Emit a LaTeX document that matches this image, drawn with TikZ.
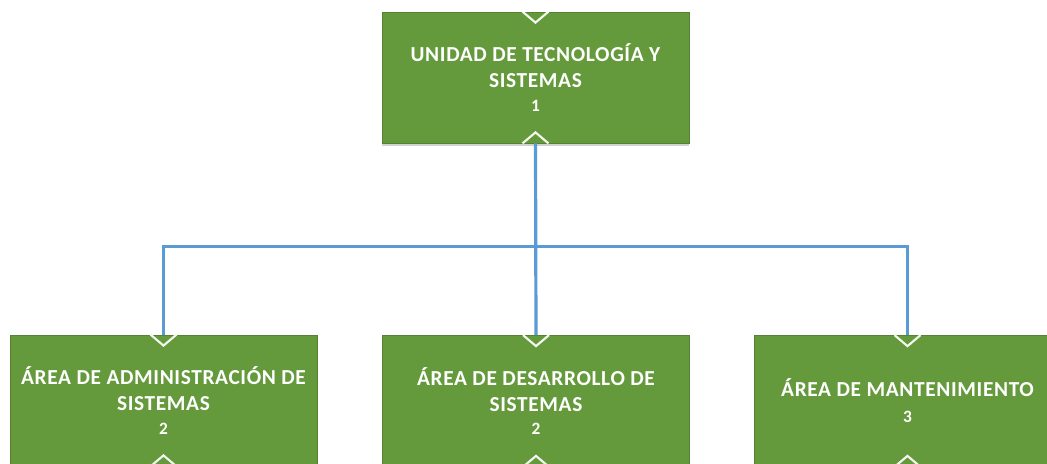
\documentclass[tikz,border=0pt]{standalone}
\usepackage{fontspec}
\setmainfont{Carlito}[LetterSpace=3]
\usetikzlibrary{shadows,calc}
\definecolor{boxgreen}{RGB}{100,154,59}
\definecolor{linkblue}{RGB}{91,155,213}
\tikzset{
  orgbox/.style={rectangle, fill=boxgreen, draw=boxgreen!85!black, line width=0.6pt,
    minimum width=230.25pt, minimum height=98.25pt, inner sep=0pt,
    text=white, align=center, font=\fontsize{16}{19.5}\selectfont\bfseries,
    drop shadow={shadow xshift=0pt, shadow yshift=-2pt, opacity=0.18, fill=black}},
  conn/.style={draw=linkblue, line width=2.4pt},
  chev/.style={draw=white!92!boxgreen, line width=1.6pt}
}
\newcommand{\numtxt}[1]{{\fontsize{13}{17}\selectfont #1}}
\begin{document}
\begin{tikzpicture}[x=0.75pt,y=-0.75pt]
\useasboundingbox (0,0) rectangle (1047,464);
\clip (0,0) rectangle (1047,464);
\node[orgbox] (top) at (535.5,77.5) {UNIDAD DE TECNOLOGÍA Y\\SISTEMAS\\[-2pt]\numtxt{1}};
\node[orgbox] (left) at (163.5,400.5) {ÁREA DE ADMINISTRACIÓN DE\\SISTEMAS\\[-2pt]\numtxt{2}};
\node[orgbox] (mid) at (536,401) {ÁREA DE DESARROLLO DE\\SISTEMAS\\[-2pt]\numtxt{2}};
\node[orgbox] (right) at (907.5,401) {ÁREA DE MANTENIMIENTO\\\numtxt{3}};
\coordinate (bus) at (536,246.5);
\draw[conn] (top.south) -- (mid.north);
\draw[conn] (left.north) |- (bus) -| (right.north);
\foreach \n in {top,left,mid,right}{
  \draw[chev] ($(\n.north)+(-13,0)$) -- ++(13,11) -- ++(13,-11);
  \draw[chev] ($(\n.south)+(-13,0)$) -- ++(13,-11) -- ++(13,11);
}
\end{tikzpicture}
\end{document}
